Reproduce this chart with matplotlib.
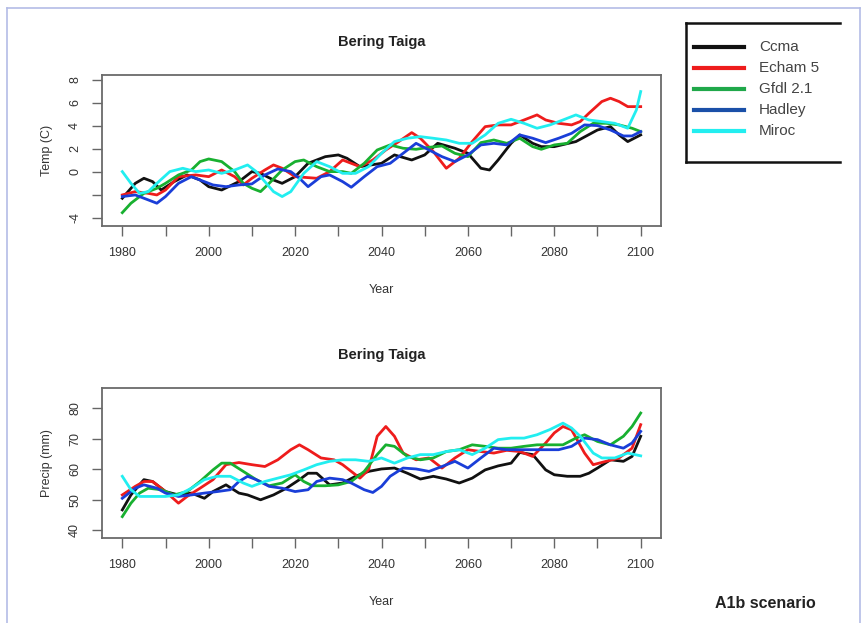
import matplotlib
matplotlib.use("Agg")
import matplotlib.pyplot as plt
from matplotlib.lines import Line2D

plt.rcParams['font.family'] = ['Liberation Sans', 'DejaVu Sans']

W, H = 863, 623

# temperatura (C) - leitura aproximada das curvas
ccma_t_anos = [1980,1983,1985,1987,1989,1992,1995,1998,2000,2003,2007,2010,2012,2015,2017,2020,2023,2027,2030,2032,2035,2040,2043,2047,2050,2053,2057,2060,2063,2065,2067,2070,2072,2075,2077,2080,2085,2090,2093,2095,2097,2100]
ccma_t = [-2.29,-0.99,-0.55,-0.84,-1.57,-0.84,-0.26,-0.70,-1.28,-1.57,-0.84,0.03,-0.12,-0.70,-0.99,-0.41,0.75,1.33,1.48,1.19,0.46,0.75,1.48,1.04,1.48,2.49,2.06,1.62,0.32,0.17,1.04,2.49,3.22,2.49,2.20,2.20,2.64,3.65,3.94,3.22,2.64,3.22]

echam_t_anos = [1980,1983,1986,1988,1990,1993,1997,2000,2003,2006,2008,2010,2013,2015,2017,2020,2025,2028,2031,2033,2035,2038,2041,2044,2047,2049,2052,2055,2058,2061,2064,2067,2070,2073,2076,2078,2081,2084,2086,2088,2091,2093,2095,2097,2100]
echam_t = [-2.00,-1.71,-1.86,-2.00,-1.57,-0.41,-0.26,-0.41,0.17,-0.41,-1.13,-0.55,0.17,0.61,0.32,-0.41,-0.55,0.03,1.04,0.75,0.46,1.04,1.91,2.64,3.42,2.93,1.77,0.32,1.19,2.64,3.94,4.09,4.09,4.52,4.96,4.52,4.23,4.09,4.38,5.10,6.12,6.41,6.12,5.68,5.68]

gfdl_t_anos = [1980,1982,1985,1988,1990,1993,1996,1998,2000,2003,2006,2008,2010,2012,2014,2017,2020,2022,2025,2028,2031,2033,2036,2039,2042,2045,2048,2051,2054,2057,2060,2063,2066,2069,2072,2075,2077,2080,2083,2086,2089,2092,2095,2098,2100]
gfdl_t = [-3.54,-2.72,-1.86,-1.42,-0.99,-0.26,0.17,0.90,1.13,0.90,0.03,-0.99,-1.42,-1.71,-0.99,0.17,0.90,1.04,0.46,0.03,0.03,-0.12,0.75,1.91,2.35,2.06,1.97,2.14,2.26,1.62,1.33,2.55,2.78,2.49,2.93,2.20,1.97,2.35,2.49,3.51,4.23,4.23,4.09,3.80,3.51]

hadley_t_anos = [1980,1983,1986,1988,1990,1993,1996,1998,2001,2004,2007,2010,2013,2016,2019,2021,2023,2026,2028,2031,2033,2036,2039,2042,2045,2048,2051,2054,2057,2060,2063,2066,2069,2072,2075,2078,2081,2084,2087,2090,2093,2096,2098,2100]
hadley_t = [-2.14,-2.00,-2.43,-2.72,-2.14,-0.99,-0.41,-0.70,-1.13,-1.28,-1.13,-1.04,-0.26,0.26,0.03,-0.55,-1.28,-0.41,-0.26,-0.84,-1.33,-0.41,0.46,0.75,1.62,2.49,1.91,1.33,0.90,1.48,2.35,2.49,2.35,3.22,2.93,2.55,2.93,3.36,4.09,4.03,3.65,3.13,3.13,3.51]

miroc_t_anos = [1980,1982,1984,1986,1988,1991,1994,1997,2000,2003,2006,2009,2011,2013,2015,2017,2019,2022,2025,2028,2031,2034,2037,2040,2043,2046,2049,2052,2055,2058,2061,2064,2067,2070,2073,2076,2079,2082,2085,2088,2091,2094,2097,2099,2100]
miroc_t = [0.03,-0.99,-1.86,-1.71,-0.99,0.03,0.32,0.03,0.17,-0.12,0.17,0.61,0.03,-0.84,-1.71,-2.14,-1.71,-0.12,0.90,0.46,-0.12,-0.12,0.46,1.62,2.64,2.93,3.07,2.93,2.78,2.49,2.49,3.22,4.23,4.58,4.23,3.80,4.09,4.52,4.96,4.52,4.38,4.23,3.80,5.39,6.99]

# precipitacao (mm)
ccma_p_anos = [1980,1982,1985,1987,1990,1993,1996,1999,2001,2004,2007,2009,2012,2015,2018,2021,2023,2025,2028,2031,2034,2037,2040,2043,2046,2049,2052,2055,2058,2061,2064,2067,2070,2072,2075,2078,2080,2083,2086,2088,2090,2093,2096,2098,2100]
ccma_p = [46.7,51.6,56.6,56.0,52.7,51.6,52.2,50.5,52.7,54.9,52.2,51.6,50.0,51.6,53.8,56.6,58.7,58.7,54.9,55.5,57.7,59.3,60.1,60.4,58.7,56.8,57.7,56.8,55.5,57.1,59.8,61.1,62.0,65.5,64.8,59.8,58.2,57.7,57.7,58.7,60.4,63.1,62.6,64.2,70.8]

echam_p_anos = [1980,1983,1985,1987,1990,1993,1995,1998,2001,2004,2007,2010,2013,2016,2019,2021,2023,2026,2029,2031,2033,2035,2037,2039,2041,2043,2045,2048,2051,2054,2057,2060,2063,2066,2069,2072,2075,2078,2080,2082,2084,2087,2089,2092,2095,2098,2100]
echam_p = [51.6,54.4,56.0,56.0,52.7,48.9,51.1,53.8,56.6,61.5,62.2,61.5,60.9,63.1,66.4,68.0,66.4,63.7,63.1,61.5,59.3,57.1,59.8,70.8,74.0,70.8,65.3,63.1,63.7,60.4,63.7,66.4,65.8,65.3,66.2,65.8,64.2,68.6,71.9,74.0,72.9,65.3,61.5,62.6,63.7,66.9,74.6]

gfdl_p_anos = [1980,1982,1984,1986,1989,1992,1995,1998,2001,2003,2005,2008,2011,2014,2017,2020,2022,2024,2027,2030,2033,2036,2039,2041,2043,2046,2049,2052,2055,2058,2061,2064,2067,2070,2073,2076,2079,2082,2085,2087,2090,2093,2096,2098,2100]
gfdl_p = [44.5,48.9,52.2,53.8,53.3,51.6,52.7,56.0,59.8,62.0,62.0,59.3,56.6,54.6,55.5,58.2,56.0,54.6,54.6,54.9,56.0,59.3,64.8,68.0,67.5,64.2,63.1,63.7,65.8,66.4,68.0,67.5,66.9,66.9,67.5,68.0,68.0,68.0,70.2,71.3,69.1,68.0,70.8,74.0,78.4]

hadley_p_anos = [1980,1983,1985,1988,1990,1993,1996,1999,2002,2005,2007,2009,2011,2014,2017,2020,2023,2025,2028,2031,2033,2036,2038,2040,2042,2045,2048,2051,2054,2057,2060,2063,2066,2069,2072,2075,2078,2081,2084,2087,2090,2093,2096,2098,2100]
hadley_p = [50.5,53.8,54.9,53.8,52.2,51.1,51.6,52.2,52.7,53.3,56.0,57.7,56.6,54.4,53.8,52.7,53.3,56.0,57.1,56.6,55.5,53.3,52.4,54.4,57.7,60.4,60.1,59.3,60.9,62.6,60.4,63.7,66.9,66.4,66.4,66.4,66.4,66.4,67.5,70.2,69.7,68.0,66.9,68.6,72.4]

miroc_p_anos = [1980,1982,1984,1987,1990,1993,1996,1999,2002,2005,2008,2010,2013,2016,2019,2022,2025,2028,2031,2034,2037,2040,2043,2046,2049,2052,2055,2058,2061,2064,2067,2070,2073,2076,2079,2082,2084,2086,2089,2091,2094,2097,2100]
miroc_p = [57.7,53.3,51.1,51.1,51.1,51.6,53.8,56.6,57.7,57.7,55.5,54.4,56.0,57.1,58.2,59.8,61.5,62.6,63.1,63.1,62.6,63.7,62.0,63.7,64.8,64.8,65.8,66.4,64.8,66.9,69.7,70.2,70.2,71.3,73.0,75.1,73.5,70.8,65.3,63.7,63.7,65.3,64.4]

modelos = ["Ccma", "Echam 5", "Gfdl 2.1", "Hadley", "Miroc"]
cores = ["#111111", "#ee1c1c", "#18b030", "#1a3ed8", "#22eef0"]
cores_leg = ["#111111", "#ee1c1c", "#20a84a", "#1a50a8", "#22eef0"]

temp = [(ccma_t_anos, ccma_t), (echam_t_anos, echam_t), (gfdl_t_anos, gfdl_t),
        (hadley_t_anos, hadley_t), (miroc_t_anos, miroc_t)]
prec = [(ccma_p_anos, ccma_p), (echam_p_anos, echam_p), (gfdl_p_anos, gfdl_p),
        (hadley_p_anos, hadley_p), (miroc_p_anos, miroc_p)]

anos_ticks = [1980, 1990, 2000, 2010, 2020, 2030, 2040, 2050, 2060, 2070, 2080, 2090, 2100]
anos_rotulos = ["1980", "", "2000", "", "2020", "", "2040", "", "2060", "", "2080", "", "2100"]
temp_ticks = [-4, -2, 0, 2, 4, 6, 8]
temp_rotulos = ["-4", "", "0", "2", "4", "6", "8"]
prec_ticks = [40, 50, 60, 70, 80]


def fx(p):
    return p / W


def fy(p):
    return 1 - p / H


fig = plt.figure(figsize=(W / 100, H / 100), dpi=100)

# moldura azul clara da figura
for xs, ys in [([7, 7], [8, 623]), ([7, 860], [8, 8]), ([860, 860], [8, 623])]:
    fig.add_artist(Line2D([fx(x) for x in xs], [fy(y) for y in ys], color="#b4bce6", lw=1.2))


def painel(caixa, series, yticks, yrot, ylim, ylabel):
    ax = fig.add_axes(caixa)
    for (anos, vals), c in zip(series, cores):
        ax.plot(anos, vals, color=c, lw=2.0, solid_joinstyle="round")
    ax.set_xlim(1975.3, 2104.7)
    ax.set_ylim(*ylim)
    ax.set_xticks(anos_ticks)
    ax.set_xticklabels(anos_rotulos)
    ax.set_yticks(yticks)
    ax.set_yticklabels(yrot, rotation=90, va="center")
    ax.tick_params(direction="out", length=7, width=1, colors="#666666", labelcolor="#333333",
                   labelsize=9, pad=8)
    for s in ax.spines.values():
        s.set_color("#6a6a6a")
        s.set_linewidth(1.3)
    ax.set_title("Bering Taiga", fontsize=10.5, fontweight="bold", color="#222222", pad=21)
    ax.set_xlabel("Year", fontsize=9, color="#333333", labelpad=18)
    ax.set_ylabel(ylabel, fontsize=9, color="#333333", labelpad=12)
    return ax


ax1 = painel([fx(102), fy(226), fx(661 - 102), (226 - 75) / H], temp, temp_ticks, temp_rotulos,
             (-4.7, 8.43), "Temp (C)")
ax2 = painel([fx(102), fy(538), fx(661 - 102), (538 - 388) / H], prec, prec_ticks,
             [str(v) for v in prec_ticks], (37.5, 86.6), "Precip (mm)")

# legenda (caixa cortada a direita, como na imagem)
for xs, ys in [([686, 686], [23, 162]), ([686, 840], [23, 23]), ([686, 840], [162, 162])]:
    fig.add_artist(Line2D([fx(x) for x in xs], [fy(y) for y in ys], color="#111111", lw=1.8))
for i, (nome, c) in enumerate(zip(modelos, cores_leg)):
    y = 47 + i * 21
    fig.add_artist(Line2D([fx(694), fx(744)], [fy(y), fy(y)], color=c, lw=3))
    fig.text(fx(759), fy(y), nome, fontsize=11, color="#444444", va="center", ha="left")

fig.text(fx(765), fy(604), "A1b scenario", fontsize=11.5, fontweight="bold", color="#222222",
         ha="center", va="center")

plt.savefig("out.png", dpi=100)
